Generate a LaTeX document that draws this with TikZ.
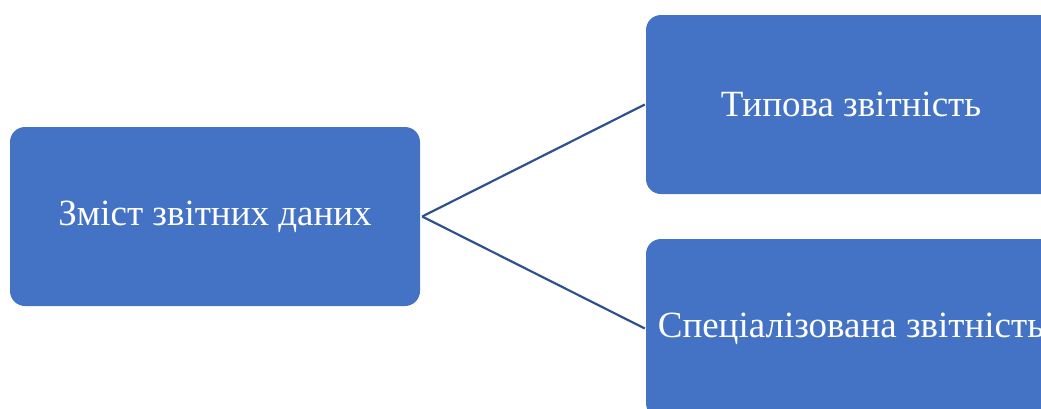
\documentclass[tikz,border=0pt]{standalone}
\usepackage{fontspec}
\setmainfont{Liberation Serif}
\definecolor{boxblue}{HTML}{4472C4}
\definecolor{lineblue}{HTML}{2F528F}
\tikzset{
  zvit/.style={fill=boxblue, text=white, rounded corners=15pt, inner sep=0pt,
    minimum width=410pt, minimum height=179pt,
    font=\fontsize{37}{42}\selectfont},
  link/.style={draw=lineblue, line width=2.2pt}
}
\begin{document}
\begin{tikzpicture}[x=1pt, y=-1pt]
  \useasboundingbox (0,0) rectangle (1041,408);
  \clip (0,0) rectangle (1041,408);
  \node[zvit] (zmist) at (215,216.5) {Зміст звітних даних};
  \node[zvit] (typova) at (851,104.5) {Типова звітність};
  \node[zvit] (spec) at (851,328.5) {Спеціалізована звітність};
  \draw[link] ([xshift=2pt]zmist.east) -- ([xshift=-1pt]typova.west);
  \draw[link] ([xshift=2pt]zmist.east) -- ([xshift=-1pt]spec.west);
\end{tikzpicture}
\end{document}
